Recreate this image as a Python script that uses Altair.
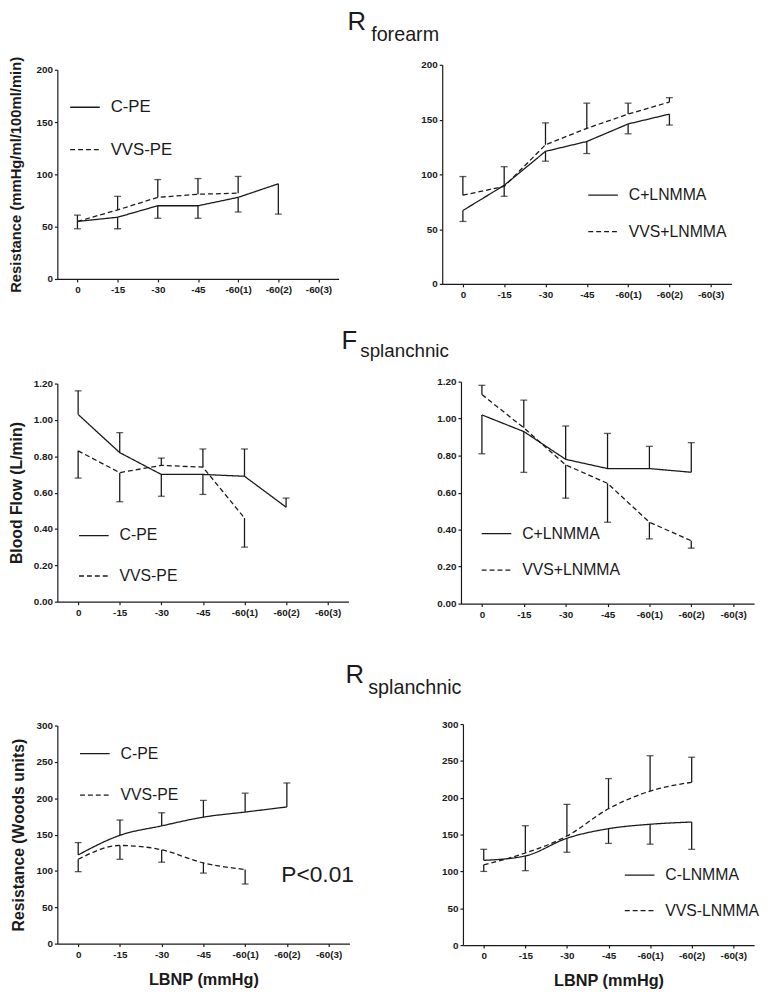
import altair as alt
import pandas as pd

CATS = ["0", "-15", "-30", "-45", "-60(1)", "-60(2)", "-60(3)"]

# ---- Row 1: R forearm (mmHg/ml/100ml/min) ----
rf_c_pe = [55, 59, 70, 70, 78, 91]
rf_c_pe_err = [48, 48, 58, 58, 64, 62]
rf_vvs_pe = [55, 66, 78, 81, 82]
rf_vvs_pe_err = [61, 79, 95, 96, 98]

rf_c_ln = [67, 90, 121, 130, 146, 155]
rf_c_ln_err = [57, 80, 112, 119, 137, 145]
rf_vvs_ln = [81, 89, 127, 142, 155, 166]
rf_vvs_ln_err = [98, 107, 147, 165, 165, 170]

# ---- Row 2: F splanchnic (L/min) ----
fs_c_pe = [1.03, 0.82, 0.70, 0.70, 0.69, 0.52]
fs_c_pe_err = [1.16, 0.93, 0.58, 0.59, 0.84, 0.57]
fs_vvs_pe = [0.83, 0.71, 0.75, 0.74, 0.46]
fs_vvs_pe_err = [0.68, 0.55, 0.79, 0.84, 0.30]

fs_c_ln = [1.02, 0.93, 0.78, 0.73, 0.73, 0.71]
fs_c_ln_err = [0.81, 0.71, 0.96, 0.92, 0.85, 0.87]
fs_vvs_ln = [1.13, 0.95, 0.75, 0.65, 0.44, 0.34]
fs_vvs_ln_err = [1.18, 1.10, 0.57, 0.44, 0.35, 0.30]

# ---- Row 3: R splanchnic (Woods units) ----
rs_c_pe = [122, 149, 162, 174, 181, 188]
rs_c_pe_err = [139, 170, 180, 197, 207, 221]
rs_vvs_pe = [116, 135, 129, 111, 102]
rs_vvs_pe_err = [99, 116, 112, 97, 82]

rs_c_ln = [115, 121, 145, 158, 164, 167]
rs_c_ln_err = [130, 101, 126, 138, 137, 130]
rs_vvs_ln = [109, 125, 148, 185, 209, 221]
rs_vvs_ln_err = [100, 162, 191, 226, 257, 255]

INK = "#1a1a1a"
FONT = "Liberation Sans"
X0 = 58


def make_df(names, means, errs):
    rows = []
    for name, m, e in zip(names, means, errs):
        for i, (mv, ev) in enumerate(zip(m, e)):
            rows.append({"cat": CATS[i], "series": name, "mean": mv, "err": ev})
    return pd.DataFrame(rows)


def label(text, x, y, size, align="left", baseline="alphabetic", opacity=1):
    return alt.Chart(pd.DataFrame({"t": [text]})).mark_text(
        font=FONT, fontSize=size, color=INK, align=align, baseline=baseline,
        opacity=opacity,
    ).encode(text="t:N", x=alt.value(x), y=alt.value(y))


def panel(names, means, errs, width, height, ydomain, yticks, yfmt,
          ytitle, ytitle_x, ytitle_size, xtitle,
          lx, ly, lgap, lsize, interp="linear", extras=()):
    df = make_df(names, means, errs)
    xaxis = alt.Axis(labelAngle=0, title=xtitle, titleFontSize=16.5,
                     titlePadding=12, labelPadding=3, tickSize=3)
    x = alt.X("cat:N", sort=CATS,
              scale=alt.Scale(type="point", domain=CATS, padding=0.5),
              axis=xaxis)
    if ytitle:
        yaxis = alt.Axis(values=yticks, format=yfmt, title=ytitle,
                         titleFontSize=ytitle_size, titleX=ytitle_x,
                         titleY=height / 2, titleBaseline="middle",
                         titleAngle=270, labelPadding=2, tickSize=3)
    else:
        yaxis = alt.Axis(values=yticks, format=yfmt, title=None,
                         labelPadding=2, tickSize=3)
    yscale = alt.Scale(domain=ydomain, nice=False, zero=True)
    base = alt.Chart(df).encode(x=x)
    lines = base.mark_line(strokeWidth=1.3, color=INK, interpolate=interp).encode(
        y=alt.Y("mean:Q", scale=yscale, axis=yaxis),
        strokeDash=alt.StrokeDash(
            "series:N",
            scale=alt.Scale(domain=names, range=[[1, 0], [5, 3]]),
            legend=alt.Legend(orient="none", legendX=lx, legendY=ly,
                              title=None, symbolType="stroke",
                              symbolSize=900, symbolStrokeWidth=1.3,
                              symbolStrokeColor=INK, labelFontSize=lsize,
                              labelOffset=10, rowPadding=lgap, padding=0,
                              labelFont=FONT, labelColor=INK),
        ),
    )
    bars = base.mark_rule(strokeWidth=1.3, color=INK).encode(
        y=alt.Y("mean:Q", scale=yscale, axis=yaxis),
        y2="err:Q",
    )
    caps = base.mark_tick(size=7, thickness=1.3, color=INK, orient="horizontal").encode(
        y=alt.Y("err:Q", scale=yscale, axis=yaxis),
    )
    layers = [bars, caps, lines] + list(extras)
    return alt.layer(*layers).properties(width=width, height=height)


# invisible left anchor so that all rows share the same left bound
anchor = label("|", -50, 10, 10, opacity=0)

p1 = panel(["C-PE", "VVS-PE"], [rf_c_pe, rf_vvs_pe], [rf_c_pe_err, rf_vvs_pe_err],
           285, 212, [0, 200], [0, 50, 100, 150, 200], "d",
           "Resistance (mmHg/ml/100ml/min)", 16 - X0, 15, None,
           12, 22, 19, 17,
           extras=[label("R", 294, -40, 26), label("forearm", 318, -29, 20), anchor])
p2 = panel(["C+LNMMA", "VVS+LNMMA"], [rf_c_ln, rf_vvs_ln], [rf_c_ln_err, rf_vvs_ln_err],
           293, 222, [0, 200], [0, 50, 100, 150, 200], "d",
           None, 0, 0, None,
           147, 116, 13, 16)

p3 = panel(["C-PE", "VVS-PE"], [fs_c_pe, fs_vvs_pe], [fs_c_pe_err, fs_vvs_pe_err],
           295, 221, [0, 1.2], [0, 0.2, 0.4, 0.6, 0.8, 1.0, 1.2], ".2f",
           "Blood Flow (L/min)", 16.5 - X0, 16, None,
           21, 138, 17, 16,
           extras=[label("F", 288, -35, 26), label("splanchnic", 307, -27, 19), anchor])
p4 = panel(["C+LNMMA", "VVS+LNMMA"], [fs_c_ln, fs_vvs_ln], [fs_c_ln_err, fs_vvs_ln_err],
           297, 225, [0, 1.2], [0, 0.2, 0.4, 0.6, 0.8, 1.0, 1.2], ".2f",
           None, 0, 0, None,
           20, 138, 13, 16)

p5 = panel(["C-PE", "VVS-PE"], [rs_c_pe, rs_vvs_pe], [rs_c_pe_err, rs_vvs_pe_err],
           296, 221, [0, 300], [0, 50, 100, 150, 200, 250, 300], "d",
           "Resistance (Woods units)", 18.5 - X0, 16, "LBNP (mmHg)",
           22, 12.5, 18, 16, interp="monotone",
           extras=[label("R", 292, -43, 26), label("splanchnic", 315, -31.5, 20),
                   label("P<0.01", 227, 152, 23, baseline="middle"), anchor])
p6 = panel(["C-LNMMA", "VVS-LNMMA"], [rs_c_ln, rs_vvs_ln], [rs_c_ln_err, rs_vvs_ln_err],
           295, 224, [0, 300], [0, 50, 100, 150, 200, 250, 300], "d",
           None, 0, 0, "LBNP (mmHg)",
           163, 137, 12, 16, interp="monotone")


def row(a, b, sp):
    return alt.hconcat(a, b, spacing=sp, center=True, bounds="flush").resolve_scale(
        strokeDash="independent").resolve_legend(strokeDash="independent")


r1 = row(p1, p2, 105)
r2 = row(p3, p4, 114)
r3 = row(p5, p6, 115)

top = alt.vconcat(r1, r2, spacing=29).resolve_scale(
    strokeDash="independent").resolve_legend(strokeDash="independent")

chart = alt.vconcat(top, r3, spacing=43).resolve_scale(
    strokeDash="independent").resolve_legend(strokeDash="independent").properties(
    padding={"left": 0, "top": -5, "right": 0, "bottom": 0}
).configure_view(stroke=None).configure_axis(
    grid=False, domainColor=INK, tickColor=INK, domainWidth=1.2, tickWidth=1.2,
    labelFont=FONT, labelFontWeight="bold", labelFontSize=10, labelColor=INK,
    titleFont=FONT, titleFontWeight="bold", titleColor=INK,
)

chart.save("out.html", embed_options={"renderer": "svg", "actions": False})
